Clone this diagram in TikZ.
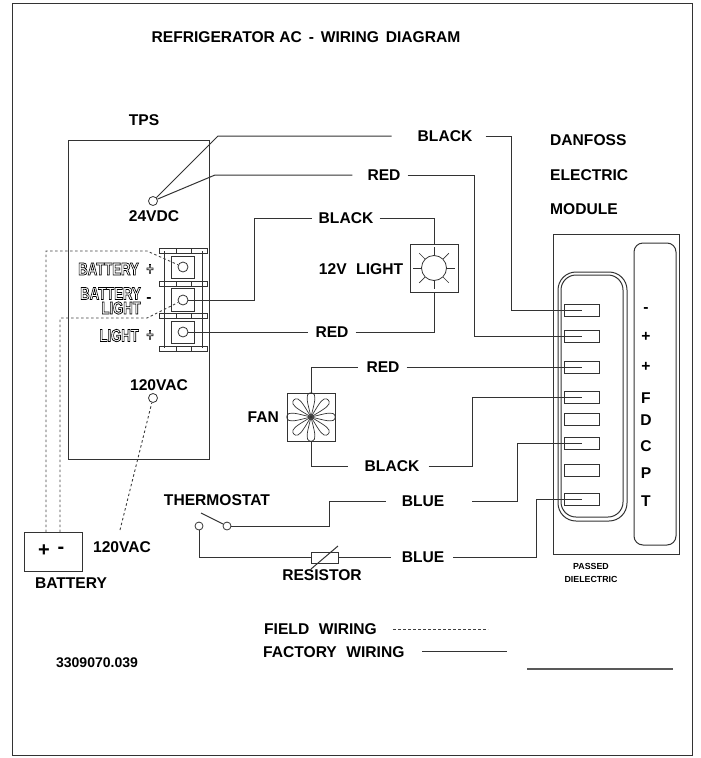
\documentclass[tikz,border=0pt]{standalone}
\usepackage{fontspec}
\setmainfont{Liberation Sans}
\newcommand{\outlined}[1]{\scalebox{0.75}[1]{\special{pdf:code 1 Tr 0.75 w}\bfseries #1\special{pdf:code 0 Tr 0.4 w}}}
\tikzset{
    wire/.style={line width=1pt,draw=black!80},
    fieldwire/.style={line width=0.9pt,draw=black!75,dash pattern=on 2.5pt off 2.5pt},
    tag/.style={font=\bfseries\fontsize{15.6}{15.6}\selectfont,text=black,inner sep=0pt},
    termtag/.style={font=\bfseries\fontsize{17.5}{17.5}\selectfont,inner sep=0pt,anchor=east},
    hole/.style={circle,draw=black!80,line width=0.8pt,minimum size=10pt,inner sep=0pt},
    pin/.style={draw=black!80,line width=1pt,minimum width=35pt,minimum height=12pt,inner sep=0pt},
}
\begin{document}
\begin{tikzpicture}[x=1pt,y=-1pt]
    \useasboundingbox (0,0) rectangle (701,758);
    % frame and title
    \draw[wire] (12,3) rectangle (692,755);
    \node[tag] (title) at (306,37) {REFRIGERATOR AC \,-\, WIRING \,DIAGRAM};
    \node[tag] (tps) at (144,120) {TPS};
    \node[tag,anchor=west] (danfoss) at (550,140) {DANFOSS};
    \node[tag,anchor=west] (electric) at (550,175) {ELECTRIC};
    \node[tag,anchor=west] (module) at (550,209) {MODULE};
    % power supply
    \draw[wire] (68,140) rectangle (209,459);
    \node[hole,minimum size=9pt] (dc) at (153,201) {};
    \node[tag] (dclbl) at (154,216) {24VDC};
    \node[hole,minimum size=9pt] (ac) at (153,398) {};
    \node[tag] (aclbl) at (159,385) {120VAC};
    % terminal block
    \draw[wire] (164,251) -- (164,348);
    \draw[wire] (202,251) -- (202,348);
    \foreach \y in {248,281,313,346} {
        \draw[wire] (159,\y) rectangle (207,\y+5);
        \draw[wire] (176,\y) -- (176,\y+5);
        \draw[wire] (191,\y) -- (191,\y+5);
    }
    \draw[wire] (171,256) rectangle (194,278);
    \draw[wire] (171,288) rectangle (194,311);
    \draw[wire] (171,321) rectangle (194,343);
    \node[hole] (term1) at (183,267) {};
    \node[hole] (term2) at (183,300) {};
    \node[hole] (term3) at (183,332) {};
    \node[termtag] (lblbat) at (139,269) {\outlined{BATTERY}};
    \node[termtag] (lblbatb) at (141,293.5) {\outlined{BATTERY}};
    \node[termtag] (lbllight) at (141,308) {\outlined{LIGHT}};
    \node[termtag] (lbllightb) at (139,335.5) {\outlined{LIGHT}};
    \node[tag,font=\bfseries\fontsize{17}{17}\selectfont] (plusa) at (150,269.5) {\outlined{+}};
    \node[tag] (minusa) at (149,300) {-};
    \node[tag,font=\bfseries\fontsize{17}{17}\selectfont] (plusb) at (150,335.5) {\outlined{+}};
    % light
    \node[draw=black!80,line width=1pt,minimum size=48pt,inner sep=0pt] (light) at (434,268) {};
    \node[circle,draw=black!80,line width=0.8pt,minimum size=25pt,inner sep=0pt] (lamp) at (434,268) {};
    \foreach \a in {0,45,...,315} \draw[wire,line width=0.7pt] (lamp.\a) -- ([shift={(-\a:8)}]lamp.\a);
    \node[tag] (lightlbl) at (361,269) {12V \,\,LIGHT};
    % fan
    \node[draw=black!80,line width=1pt,minimum size=48pt,inner sep=0pt] (fan) at (311,417) {};
    \foreach \a in {0,45,...,315} {
        \begin{scope}[shift={(fan.center)},rotate=\a]
            \draw[wire,line width=0.7pt] (0,0) .. controls (9,-2) and (18,-5) .. (22,-3.5) .. controls (25,-2) and (25,2) .. (22,3.5) .. controls (18,5) and (9,2) .. (0,0);
        \end{scope}
    }
    \node[tag,anchor=east] (fanlbl) at (279,417) {FAN};
    % module
    \draw[wire] (553,234) rectangle (679,554);
    \draw[wire,rounded corners=9pt] (634,243) rectangle (676,545);
    \draw[wire,rounded corners=18pt] (558,272) rectangle (627,521);
    \draw[wire,rounded corners=15pt] (561,275) rectangle (623,517);
    \node[pin] (t1) at (581.5,310) {};
    \node[pin] (t2) at (581.5,336) {};
    \node[pin] (t3) at (581.5,367) {};
    \node[pin] (t4) at (581.5,397) {};
    \node[pin] (t5) at (581.5,419) {};
    \node[pin] (t6) at (581.5,443) {};
    \node[pin] (t7) at (581.5,470) {};
    \node[pin] (t8) at (581.5,499.5) {};
    \node[tag] (la) at (646,310) {-};
    \node[tag] (lb) at (646,337) {+};
    \node[tag] (lc) at (646,367) {+};
    \node[tag] (ld) at (646,398) {F};
    \node[tag] (le) at (646,420) {D};
    \node[tag] (lf) at (646,446) {C};
    \node[tag] (lg) at (646,473) {P};
    \node[tag] (lh) at (646,501) {T};
    \node[tag,font=\bfseries\fontsize{8.8}{13}\selectfont,align=center] (passed) at (591,573) {PASSED\\DIELECTRIC};
    % battery
    \node[draw=black!80,line width=1pt,minimum width=58pt,minimum height=39pt,inner sep=0pt] (bat) at (53,551.5) {};
    \node[tag,font=\bfseries\fontsize{20}{20}\selectfont] (batp) at (44,551) {+};
    \node[tag,font=\bfseries\fontsize{20}{20}\selectfont] (batm) at (61,550) {-};
    \node[tag] (batlbl) at (71,583) {BATTERY};
    \node[tag] (vaclbl) at (122,547) {120VAC};
    % thermostat and resistor
    \node[tag] (therm) at (217,500) {THERMOSTAT};
    \node[hole,minimum size=8pt] (tha) at (199,526) {};
    \node[hole,minimum size=8pt] (thb) at (227,526) {};
    \coordinate (blade) at (201,513);
    \draw[wire] (blade) -- (thb);
    \node[draw=black!80,line width=1pt,minimum width=27pt,minimum height=11pt,inner sep=0pt] (res) at (324.5,557.5) {};
    \coordinate (sla) at (311,569);
    \coordinate (slb) at (338,546);
    \draw[wire] (sla) -- (slb);
    \node[tag] (reslbl) at (322,575) {RESISTOR};
    % labels on the wires
    \node[tag] (blka) at (445,136) {BLACK};
    \node[tag] (reda) at (384,175) {RED};
    \node[tag] (blkb) at (346,218) {BLACK};
    \node[tag] (redb) at (332,332) {RED};
    \node[tag] (redc) at (383,367) {RED};
    \node[tag] (blkc) at (392,466) {BLACK};
    \node[tag] (blua) at (423,501) {BLUE};
    \node[tag] (blub) at (423,557.5) {BLUE};
    % factory wiring
    \draw[wire] (dc) -- (218,136) -- ([xshift=-26pt]blka.west);
    \draw[wire] ([xshift=13pt]blka.east) -- (511,136) |- (t1.center);
    \draw[wire] (dc) -- (215,175) -- ([xshift=-15pt]reda.west);
    \draw[wire] ([xshift=7pt]reda.east) -- (474,175) |- (t2.center);
    \draw[wire] (term2) -- (254,300) |- ([xshift=-7pt]blkb.west);
    \draw[wire] ([xshift=6pt]blkb.east) -| (light);
    \draw[wire] (term3) -- ([xshift=-7pt]redb.west);
    \draw[wire] ([xshift=7pt]redb.east) -| (light);
    \draw[wire] (fan) |- ([xshift=-8pt]redc.west);
    \draw[wire] ([xshift=7pt]redc.east) -- (t3.center);
    \draw[wire] (fan) |- ([xshift=-17pt]blkc.west);
    \draw[wire] ([xshift=9pt]blkc.east) -- (472,466) |- (t4.center);
    \draw[wire] (thb) -- (329,526) |- ([xshift=-16pt]blua.west);
    \draw[wire] ([xshift=28pt]blua.east) -- (517,501) |- (t6.center);
    \draw[wire] (tha) |- (res);
    \draw[wire] (res) -- ([xshift=-11pt]blub.west);
    \draw[wire] ([xshift=9pt]blub.east) -- (536,557.5) |- (t8.center);
    % field wiring
    \coordinate (batp1) at (46,532);
    \coordinate (batm1) at (60,532);
    \coordinate (vac1) at (120,530);
    \draw[fieldwire] (batp1) -- (46,251) -- (147,251) -- (term1);
    \draw[fieldwire] (batm1) -- (60,318) -- (147,318) -- (term2);
    \draw[fieldwire] (vac1) -- (ac);
    % legend
    \node[tag,anchor=west] (fieldlbl) at (264,629) {FIELD \,\,WIRING};
    \node[tag,anchor=west] (factlbl) at (263,652) {FACTORY \,\,WIRING};
    \coordinate (fielda) at (393,629);
    \coordinate (fieldb) at (488,629);
    \coordinate (facta) at (422,651);
    \coordinate (factb) at (507,651);
    \coordinate (signa) at (527,669);
    \coordinate (signb) at (673,669);
    \draw[fieldwire] (fielda) -- (fieldb);
    \draw[wire] (facta) -- (factb);
    \draw[wire,line width=1.2pt,draw=black!65] (signa) -- (signb);
    \node[tag,font=\bfseries\fontsize{14}{14}\selectfont] (partno) at (97,663) {3309070.039};
\end{tikzpicture}
\end{document}
